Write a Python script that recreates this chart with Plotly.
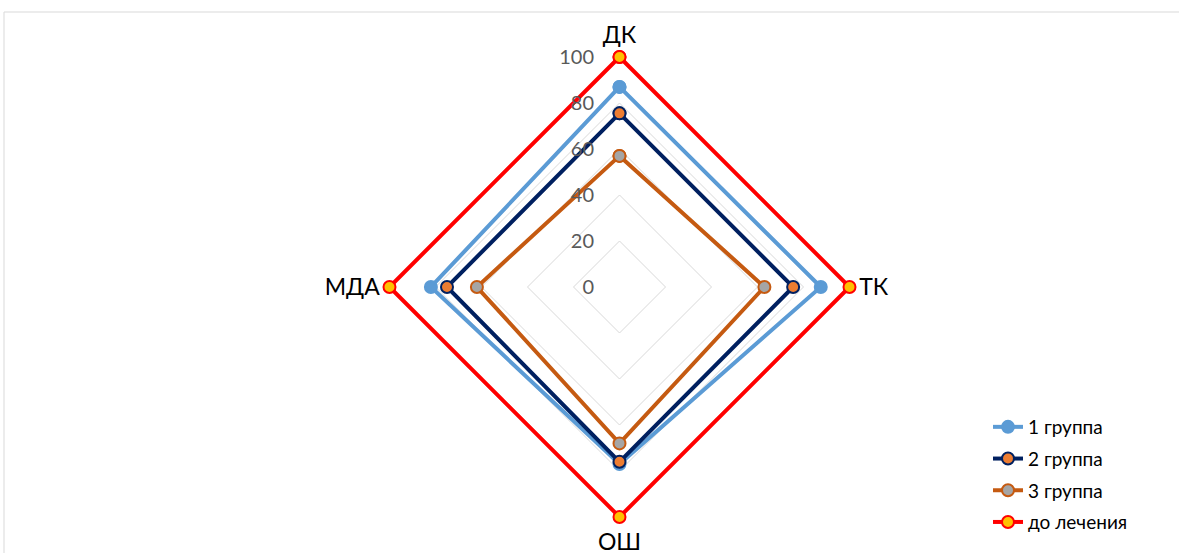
import plotly.graph_objects as go

# Axes of the radar chart
categories = ["ДК", "ТК", "ОШ", "МДА"]

# Series values (%)
group1 = [87, 87.5, 77, 82]
group2 = [75.5, 75.5, 76, 75]
group3 = [57, 63, 68, 62]
before = [100, 100, 100, 100]

radial_ticks = [0, 20, 40, 60, 80, 100]

series = [
    ("1 группа", group1, "#5B9BD5", "#5B9BD5", "#5B9BD5"),
    ("2 группа", group2, "#002060", "#ED7D31", "#002060"),
    ("3 группа", group3, "#C55A11", "#A5A5A5", "#C55A11"),
    ("до лечения", before, "#FF0000", "#FFC000", "#FF0000"),
]

fig = go.Figure()
for i, (name, vals, line_c, fill_c, edge_c) in enumerate(series):
    fig.add_trace(go.Scatterpolar(
        r=vals + vals[:1],
        theta=categories + categories[:1],
        name=name,
        mode="lines+markers",
        line=dict(color=line_c, width=4),
        marker=dict(size=12, color=fill_c, line=dict(color=edge_c, width=2)),
        legendgroup=f"g{i}",
        cliponaxis=False,
    ))

W, H = 1179, 553
R_MAX = 102  # a little headroom so the outer series line is not clipped
cx, cy = 619.5, 287.0
R = 230.0 * R_MAX / 100

fig.update_layout(
    width=W, height=H,
    margin=dict(l=0, r=0, t=0, b=0),
    paper_bgcolor="white",
    font=dict(family="Lato, 'Open Sans', sans-serif", color="#000000"),
    polar=dict(
        domain=dict(
            x=[(cx - R) / W, (cx + R) / W],
            y=[(H - cy - R) / H, (H - cy + R) / H],
        ),
        gridshape="linear",
        bgcolor="white",
        angularaxis=dict(
            direction="clockwise",
            rotation=90,
            showgrid=False,
            showline=False,
            ticks="outside",
            ticklen=0,
            tickcolor="rgba(0,0,0,0)",
            tickfont=dict(size=23, color="#000000"),
        ),
        radialaxis=dict(
            range=[0, R_MAX],
            tickvals=radial_ticks,
            angle=90,
            tickangle=90,
            side="counterclockwise",
            showline=False,
            ticks="outside",
            ticklen=18,
            tickcolor="rgba(0,0,0,0)",
            gridcolor="#D9D9D9",
            gridwidth=1.3,
            tickfont=dict(size=20, color="#595959"),
        ),
    ),
    showlegend=True,
    legend=dict(
        x=988 / W, y=(H - 408) / H,
        xanchor="left", yanchor="top",
        font=dict(size=19, color="#000000"),
        traceorder="grouped",
        tracegroupgap=4,
        bgcolor="rgba(0,0,0,0)",
    ),
    shapes=[dict(
        type="rect", xref="paper", yref="paper",
        x0=4 / W, x1=1.01, y0=-0.02, y1=1 - 12 / H,
        line=dict(color="#D9D9D9", width=1),
        fillcolor="rgba(0,0,0,0)",
        layer="below",
    )],
)

fig.write_html("out.html")
